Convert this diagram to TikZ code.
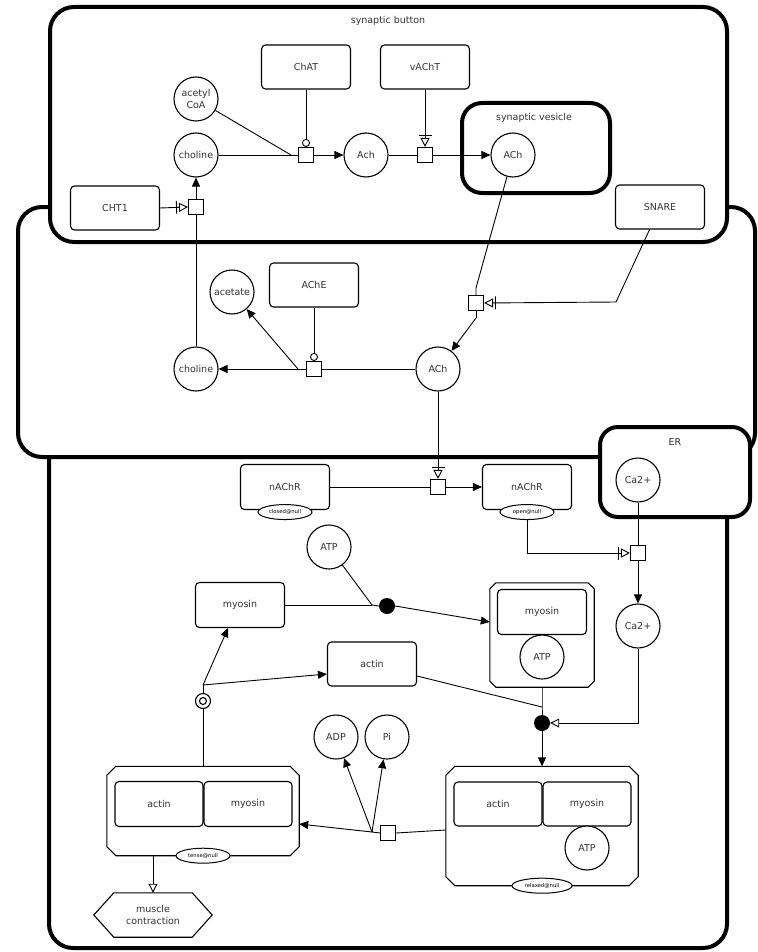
\documentclass[tikz,border=0pt]{standalone}
\usepackage{fontspec}
\setmainfont{DejaVu Sans}
\usetikzlibrary{arrows.meta,shapes.geometric,calc}
\newcommand\cplxoutline[2]{%
 \draw[line width=1.1pt, fill=white] ($(#1.north west)+(#2,0)$) -- ($(#1.north east)+(-#2,0)$) -- ($(#1.north east)+(0,#2)$) -- ($(#1.south east)+(0,-#2)$) -- ($(#1.south east)+(-#2,0)$) -- ($(#1.south west)+(#2,0)$) -- ($(#1.south west)+(0,-#2)$) -- ($(#1.north west)+(0,#2)$) -- cycle;}
\begin{document}
\begin{tikzpicture}[x=1pt,y=-1pt,
  lbl/.style={font=\fontsize{9.5}{11.5}\selectfont, text=black!80},
  comp/.style={line width=4pt, rounded corners=24pt, fill=white},
  macro/.style={lbl, draw, line width=1.1pt, rounded corners=4pt, minimum width=89pt, minimum height=44pt, fill=white, inner sep=0pt},
  simple/.style={lbl, draw, circle, line width=1.1pt, minimum size=44pt, inner sep=0pt, fill=white, align=center},
  proc/.style={draw, line width=1.1pt, minimum size=15pt, inner sep=0pt, fill=white},
  assoc/.style={circle, fill=black, minimum size=16pt, inner sep=0pt},
  dissoc/.style={circle, draw, line width=1.1pt, minimum size=15pt, inner sep=0pt, fill=white},
  dissocin/.style={circle, draw, line width=1.1pt, minimum size=7pt, inner sep=0pt},
  sv/.style={draw, ellipse, line width=1pt, fill=white, inner sep=0pt, minimum height=15pt, font=\fontsize{5.3}{6}\selectfont},
  cplx/.style={lbl, inner sep=0pt},
  cons/.style={line width=0.9pt},
  prod/.style={line width=0.9pt, -{Triangle[length=9pt,width=8pt]}},
  stim/.style={line width=0.9pt, -{Triangle[open,length=9pt,width=9pt]}},
  nstim/.style={line width=0.9pt, -{Bar[width=13pt,sep=2pt]Triangle[open,length=9pt,width=9pt]}},
  catal/.style={line width=0.9pt, -{Circle[open,length=8pt,width=8pt]}},
]
\useasboundingbox[fill=white] (0,0) rectangle (757,952);
% compartments
\draw[comp] (49,430) rectangle (727,948);
\draw[comp] (18,207) rectangle (755,457);
\draw[comp] (50,7) rectangle (727,242);
\draw[comp, rounded corners=20pt] (462,103) rectangle (610,193);
\draw[comp, rounded corners=18pt] (600,427) rectangle (750,517);
\node[lbl] (lbutton) at (388,21) {synaptic button};
\node[lbl] (lvesicle) at (534,118) {synaptic vesicle};
\node[lbl] (lER) at (675,442) {ER};

% synaptic button
\node[macro] (ChAT) at (306,67) {ChAT};
\node[macro] (vAChT) at (425,67) {vAChT};
\node[simple] (acoa) at (196,99) {acetyl\\CoA};
\node[simple] (chol1) at (196,155) {choline};
\node[simple] (Ach) at (366,155) {Ach};
\node[proc] (p1) at (306,155) {};
\node[proc] (p2) at (425,155) {};
\node[simple] (AChv) at (513,155) {ACh};
\node[macro] (CHT1) at (115,208) {CHT1};
\node[proc] (p3) at (196,207) {};
\node[macro] (SNARE) at (660,207) {SNARE};
\coordinate (p1in) at (291,155);

% cleft
\node[proc] (p4) at (476,303) {};
\coordinate (p4in) at (476,288);
\coordinate (p4out) at (476,318);
\coordinate (snarebend) at (616,302);
\node[simple] (AChc) at (438,369) {ACh};
\node[macro] (AChE) at (314,285) {AChE};
\node[simple] (acetate) at (232,292) {acetate};
\node[simple] (chol2) at (196,369) {choline};
\node[proc] (p5) at (314,369) {};
\coordinate (p5out) at (298,369);

% muscle
\node[macro, minimum height=45pt] (nAChRc) at (285,487) {nAChR};
\node[sv, minimum width=54pt] (svc) at ($(nAChRc.south)+(0,2)$) {closed@null};
\node[proc] (p6) at (438,487) {};
\node[macro, minimum height=45pt] (nAChRo) at (527,487) {nAChR};
\node[sv, minimum width=54pt] (svo) at ($(nAChRo.south)+(0,2)$) {open@null};
\node[simple] (CaER) at (638,480) {Ca2+};
\node[proc] (p7) at (638,553) {};
\coordinate (svobend) at (527,553);
\node[simple] (Cacy) at (638,626) {Ca2+};
\node[simple] (ATP1) at (329,547) {ATP};
\node[macro, minimum height=45pt] (myosin1) at (240,605) {myosin};
\node[assoc] (a1) at (387,606) {};
\coordinate (a1in) at (372,605);
\node[cplx, minimum width=104pt, minimum height=104pt] (cplx1) at (542,635) {};
\cplxoutline{cplx1}{6}
\node[macro, minimum height=45pt] (myosin2) at (542,612) {myosin};
\node[simple] (ATP2) at (542,657) {ATP};
\node[macro] (actin1) at (372,664) {actin};
\node[assoc] (a2) at (542,723) {};
\coordinate (a2in) at (542,707);
\coordinate (cabend) at (638,723);
\node[cplx, minimum width=192pt, minimum height=119pt] (relaxed) at (542,826) {};
\cplxoutline{relaxed}{9}
\node[macro, minimum width=88pt] (actin3) at (498,804) {actin};
\node[macro, minimum width=88pt] (myosin3) at (587,804) {myosin};
\node[simple] (ATP3) at (587,848) {ATP};
\node[sv, minimum width=60pt] (svr) at (relaxed.south) {relaxed@null};
\node[proc] (p8) at (388,833) {};
\coordinate (p8out) at (372,832);
\node[simple] (ADP) at (336,737) {ADP};
\node[simple] (Pi) at (387,737) {Pi};
\node[cplx, minimum width=192pt, minimum height=89pt] (tense) at (203,811) {};
\cplxoutline{tense}{9}
\node[macro, minimum width=88pt, minimum height=45pt] (actin4) at (159,804) {actin};
\node[macro, minimum width=88pt, minimum height=45pt] (myosin4) at (248,804) {myosin};
\node[sv, minimum width=54pt] (svt) at (tense.south) {tense@null};
\node[dissoc] (d1) at (203,701) {};
\node[dissocin] (d1i) at (203,701) {};
\coordinate (d1out) at (203,685);
\node[lbl, minimum width=118pt, minimum height=44pt, align=center, inner sep=0pt] (mc) at (153,915) {muscle\\contraction};
\draw[line width=1.1pt] (mc.west) -- ($(mc.north west)+(20,0)$) -- ($(mc.north east)+(-20,0)$) -- (mc.east) -- ($(mc.south east)+(-20,0)$) -- ($(mc.south west)+(20,0)$) -- cycle;

% arcs: button
\draw[cons] (chol1) -- (p1in);
\draw[cons] (acoa) -- (p1in);
\draw[cons] (p1in) -- (p1.west);
\draw[prod] (p1.east) -- (Ach);
\draw[catal] (ChAT.south) -- (p1.north);
\draw[cons] (Ach) -- (p2.west);
\draw[prod] (p2.east) -- (AChv);
\draw[nstim] (vAChT.south) -- (p2.north);
\draw[nstim] (CHT1.east) -- (p3.west);
\draw[prod] (p3.north) -- (chol1.south);
\draw[cons] (chol2.north) -- (p3.south);

% arcs: cleft
\draw[cons] (AChv) -- (p4in) -- (p4.north);
\draw[nstim] (SNARE) -- (snarebend) -- (p4.east);
\draw[cons] (p4.south) -- (p4out);
\draw[prod] (p4out) -- (AChc);
\draw[cons] (AChc) -- (p5.east);
\draw[cons] (p5.west) -- (p5out);
\draw[prod] (p5out) -- (chol2);
\draw[prod] (p5out) -- (acetate);
\draw[catal] (AChE.south) -- (p5.north);

% arcs: muscle
\draw[nstim] (AChc.south) -- (p6.north);
\draw[cons] (nAChRc.east) -- (p6.west);
\draw[prod] (p6.east) -- (nAChRo.west);
\draw[cons] (CaER.south) -- (p7.north);
\draw[prod] (p7.south) -- (Cacy.north);
\draw[nstim] (svo.south) -- (svobend) -- (p7.west);
\draw[cons] (myosin1.east |- a1in) -- (a1in);
\draw[cons] (ATP1) -- (a1in);
\draw[cons] (a1in) -- (a1.west);
\draw[prod] (a1.east) -- ($(cplx1.west)+(0,-13)$);
\draw[cons] ($(actin1.east)+(0,12)$) -- (a2in);
\draw[cons] (cplx1.south) -- (a2in) -- (a2.north);
\draw[stim] (Cacy.south) -- (cabend) -- (a2.east);
\draw[prod] (a2.south) -- (relaxed.north);
\draw[cons] ($(relaxed.west)+(0,4)$) -- (p8.east);
\draw[cons] (p8.west) -- (p8out);
\draw[prod] (p8out) -- ($(tense.east)+(0,13)$);
\draw[prod] (p8out) -- (ADP);
\draw[prod] (p8out) -- (Pi);
\draw[cons] (tense.north) -- (d1.south);
\draw[cons] (d1.north) -- (d1out);
\draw[prod] (d1out) -- ($(myosin1.south)+(-12,0)$);
\draw[prod] (d1out) -- ($(actin1.west)+(0,10)$);
\draw[stim] (tense.south -| mc.north) -- (mc.north);
\end{tikzpicture}
\end{document}
